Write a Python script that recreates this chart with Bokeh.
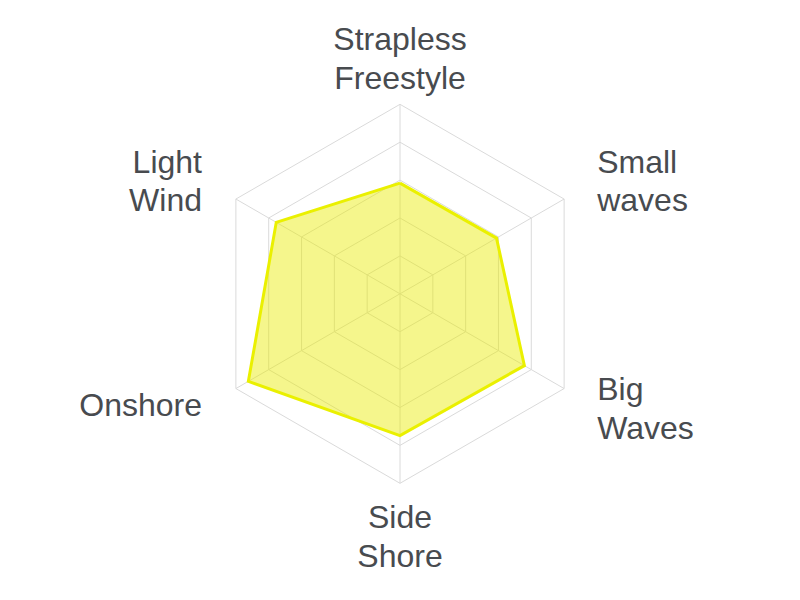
import numpy as np
from bokeh.plotting import figure
from bokeh.models import Range1d
from bokeh.core.properties import value
from bokeh.embed import file_html
from bokeh.resources import INLINE

# ---- data ----
categories = ["Strapless\nFreestyle", "Small\nwaves", "Big\nWaves", "Side\nShore", "Onshore", "Light\nWind"]
values = [2.92, 2.94, 3.79, 3.74, 4.62, 3.77]
levels = [1, 2, 3, 4, 5]
max_level = 5

# ---- layout (pixel geometry of the page) ----
W, H = 784, 584
page_x0, page_y0 = 0, 0            # where the plot sits on the page
cx_px, cy_px = 399.5, 293.3        # centre in page pixels
unit = 37.9                        # pixels per value unit

x0 = (page_x0 - cx_px) / unit
x1 = (page_x0 + W - cx_px) / unit
y_top = (cy_px - page_y0) / unit
y_bot = (cy_px - page_y0 - H) / unit

p = figure(width=W, height=H, output_backend="svg", toolbar_location=None,
           x_range=Range1d(x0, x1), y_range=Range1d(y_bot, y_top),
           min_border=0, outline_line_color=None)
p.axis.visible = False
p.grid.visible = False
p.background_fill_color = "white"
p.border_fill_color = "white"

n = len(categories)
angles = [np.pi / 2 - 2 * np.pi * i / n for i in range(n)]
grid_col = "#dadada"

# rings
for lv in levels:
    xs = [lv * np.cos(a) for a in angles] + [lv * np.cos(angles[0])]
    ys = [lv * np.sin(a) for a in angles] + [lv * np.sin(angles[0])]
    p.line(xs, ys, line_color=grid_col, line_width=1)

# spokes
p.multi_line([[0, max_level * np.cos(a)] for a in angles],
             [[0, max_level * np.sin(a)] for a in angles],
             line_color=grid_col, line_width=1)

# data polygon
px = [v * np.cos(a) for v, a in zip(values, angles)]
py = [v * np.sin(a) for v, a in zip(values, angles)]
p.patch(px, py, fill_color="#e8ec00", fill_alpha=0.45, line_color=None)
p.line(px + [px[0]], py + [py[0]], line_color="#eaf000", line_width=3, line_join="miter")

# labels: each line drawn separately at its baseline
font = value("Liberation Sans")
col = "#484b4f"
fs = "32px"
line_gap = 38.5   # px between baselines
shift = -10.5     # rendering offset correction

def to_x(xp):
    return (xp - cx_px) / unit

def to_y(yp):
    return (cy_px - yp) / unit

for i, a in enumerate(angles):
    c, s = np.cos(a), np.sin(a)
    lines = categories[i].split("\n")
    if abs(c) < 1e-6:
        xa, align = 399.5, "center"
        if s > 0:
            first = 49.3
        else:
            first = 527.3
    else:
        if c > 0:
            xa, align = 596.7, "left"
        else:
            xa, align = 201.5, "right"
        if len(lines) == 1:
            first = 415.0
        elif s > 0:
            first = 171.7
        else:
            first = 399.3
    for k, t in enumerate(lines):
        p.text(x=[to_x(xa)], y=[to_y(first + shift + k * line_gap)], text=[t],
               text_align=align, text_baseline="alphabetic",
               text_font=font, text_font_size=fs, text_color=col)

open("out.html", "w").write(file_html(p, INLINE))
